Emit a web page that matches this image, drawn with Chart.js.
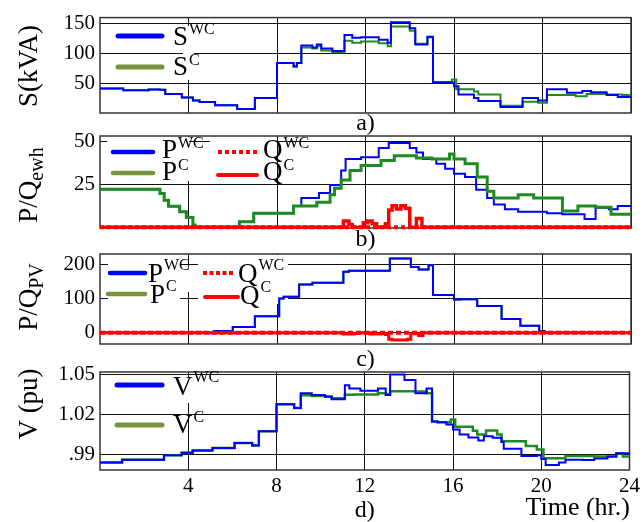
<!DOCTYPE html>
<html>
<head>
<meta charset="utf-8">
<script src="https://cdn.jsdelivr.net/npm/chart.js@4.4.1/dist/chart.umd.min.js"></script>
<style>
  html, body { margin: 0; padding: 0; background: #fff; }
  #fig { position: relative; width: 644px; height: 522px; overflow: hidden; background: #fff; }
  #fig canvas { position: absolute; left: 0; top: 0; }
</style>
</head>
<body>
<div id="fig">
  <canvas id="pa" width="644" height="522"></canvas>
  <canvas id="pb" width="644" height="522"></canvas>
  <canvas id="pc" width="644" height="522"></canvas>
  <canvas id="pd" width="644" height="522"></canvas>
</div>
<script>
// ---- shared time axis (hours) ----
const hourTicks  = [4, 8, 12, 16, 20, 24];
const hourLabels = ['4', '8', '12', '16', '20', '24'];

// ---- a) apparent power S (kVA) ----
const sTicks  = [50, 100, 150];
const sLabels = ['50', '100', '150'];
const sWcT = [0, 1.05, 2.2, 2.7, 2.95, 3.7, 4.2, 4.5, 5.2, 6.2, 7.0, 8.0, 8.75, 8.9, 9.1, 9.6, 9.8, 10.0, 10.5, 11.05, 11.4, 11.8, 12.6, 13.0, 13.15, 14.0, 14.25, 14.8, 15.05, 16.0, 16.2, 16.9, 17.1, 18.1, 19.1, 19.8, 20.2, 21.1, 21.8, 22.2, 22.9, 23.4, 24];
const sWcV = [41, 38, 39.5, 39, 32, 26, 21, 18.5, 13, 6.5, 25, 84, 78, 84, 113, 110, 115, 108, 104, 131, 126, 127, 123, 118, 152, 142, 115, 128, 51, 45, 31, 25, 20, 10, 25, 21, 40, 34, 37, 35, 30, 27, 27];
const sCT  = [0, 1.05, 2.2, 2.7, 2.95, 3.7, 4.2, 4.5, 5.2, 6.2, 7.0, 8.0, 8.75, 8.9, 9.1, 9.6, 9.8, 10.0, 10.5, 11.05, 11.4, 11.8, 12.6, 13.0, 13.15, 14.0, 14.25, 14.8, 15.05, 15.9, 16.1, 16.9, 17.1, 18.1, 19.1, 19.8, 20.2, 21.5, 22.0, 22.9, 23.6, 24];
const sCV  = [41, 38, 39.5, 39, 32, 26, 21, 18.5, 13, 6.5, 25, 84, 78, 84, 110, 108, 112, 105, 102, 121, 118, 120, 117, 112, 145, 138, 116, 127, 52, 56, 40, 36, 31, 12, 19, 17, 30, 28, 32, 31, 30, 30];

// ---- b) water heater P / Q ----
const ewhTicks  = [25, 50];
const ewhLabels = ['25', '50'];
const pEwhWcT = [0, 2.71, 2.9, 3.1, 3.6, 3.9, 4.2, 4.3, 6.3, 6.95, 8.75, 9.1, 9.9, 10.4, 10.9, 11.1, 11.8, 12.6, 13.05, 14.0, 14.3, 14.6, 15.2, 15.6, 16.0, 16.5, 17.0, 17.5, 17.8, 18.3, 18.9, 20.2, 20.9, 21.9, 22.4, 23.0, 23.4, 24];
const pEwhWcV = [22, 19.6, 15.7, 12.2, 8.9, 5.6, 1.2, 0, 3.1, 8.1, 12.3, 17, 19.8, 24.5, 33, 39.6, 40.6, 46, 49, 46, 43.4, 39.6, 36.8, 34, 31, 29.2, 21.7, 17, 13.2, 10.4, 8.9, 8.1, 7.5, 4.7, 11.3, 10.4, 12.3, 12.3];
const pEwhCT  = [0, 2.71, 2.9, 3.1, 3.6, 3.9, 4.2, 4.3, 6.3, 6.95, 8.75, 9.8, 10.4, 10.6, 10.9, 11.3, 11.8, 12.7, 13.3, 14.3, 15.0, 15.8, 16.0, 16.5, 17.05, 17.5, 17.8, 18.9, 19.6, 20.9, 21.6, 22.4, 23.1, 24];
const pEwhCV  = [22, 19.6, 15.7, 12.2, 8.9, 5.6, 1.2, 0, 3.1, 8.1, 12.3, 14.5, 18.9, 22.6, 27.4, 33, 35.8, 38.7, 41.5, 40.2, 39.6, 42.5, 39.6, 36.8, 29.2, 20.8, 17, 18.9, 17, 9.4, 12.3, 11.5, 7.5, 7.5];
const qEwhWcT = [0, 24];
const qEwhWcV = [0, 0];
const qEwhCT  = [0, 11.0, 11.25, 11.4, 11.9, 12.1, 12.3, 12.5, 12.9, 13.05, 13.2, 13.4, 13.6, 13.8, 14.0, 14.3, 14.55, 24];
const qEwhCV  = [0, 3.5, 1.5, 0, 2.5, 3.5, 2, 0, 2, 10, 12.5, 10.5, 12.5, 11, 0, 5, 0, 0];

// ---- c) PV P / Q ----
const pvTicks  = [0, 100, 200];
const pvLabels = ['0', '100', '200'];
const pPvT = [0, 5.15, 6.0, 7.0, 8.1, 8.3, 9.0, 9.6, 11.0, 11.25, 13.1, 14.05, 14.4, 14.85, 15.05, 16.0, 16.3, 17.05, 18.15, 19.0, 19.85, 20.1, 24];
const pPvV = [0, 5, 17, 48, 100, 105, 141, 146, 178, 181, 217, 192, 185, 197, 110, 97, 98, 78, 40, 20, 5, 0, 0];
const qPvWcT = [0, 24];
const qPvWcV = [0, 0];
const qPvCT  = [0, 11.0, 11.5, 11.7, 12.2, 12.7, 12.9, 13.05, 13.2, 13.9, 14.05, 14.4, 14.6, 24];
const qPvCV  = [0, -4, -2, 0, -4, -2, -5, -19, -21, -19, -3, -8, 0, 0];

// ---- d) voltage (pu) ----
const vTicks  = [0.99, 1.02, 1.05];
const vLabels = ['.99', '1.02', '1.05'];
const vWcT = [0, 1.0, 2.9, 3.7, 4.2, 5.1, 6.1, 6.9, 7.2, 8.0, 8.8, 9.1, 9.6, 10.2, 10.5, 11.1, 11.3, 11.8, 12.6, 12.95, 13.15, 13.8, 14.3, 14.8, 15.05, 15.3, 15.7, 16.0, 16.3, 16.7, 17.15, 17.4, 17.8, 18.2, 18.3, 19.1, 19.8, 20.0, 20.2, 20.8, 21.1, 21.9, 22.4, 23.0, 23.4, 24];
const vWcV = [0.9843, 0.9865, 0.9898, 0.9917, 0.9934, 0.9952, 0.9990, 0.997, 1.0077, 1.0278, 1.0249, 1.036, 1.0347, 1.0335, 1.0315, 1.042, 1.0396, 1.0379, 1.0396, 1.0347, 1.05, 1.0458, 1.036, 1.0396, 1.015, 1.0143, 1.0126, 1.0089, 1.0052, 1.003, 1.0008, 1.004, 1.0028, 0.9996, 0.9947, 0.9893, 0.9898, 0.987, 0.9826, 0.9843, 0.9865, 0.9863, 0.9873, 0.9888, 0.9912, 0.9912];
const vCT  = [0, 1.0, 2.9, 3.7, 4.2, 5.1, 6.1, 6.9, 7.2, 8.0, 8.8, 9.1, 9.6, 10.2, 10.5, 11.1, 11.5, 12.6, 12.95, 13.15, 14.3, 14.8, 15.05, 15.3, 15.9, 16.1, 16.9, 17.1, 17.5, 18.0, 18.2, 19.3, 19.8, 20.1, 21.1, 22.4, 23.4, 23.7, 24];
const vCV  = [0.9843, 0.9865, 0.9898, 0.9917, 0.9934, 0.9952, 0.9990, 0.997, 1.0077, 1.0278, 1.0249, 1.0345, 1.034, 1.0333, 1.0322, 1.0348, 1.035, 1.036, 1.0355, 1.0375, 1.0372, 1.036, 1.015, 1.0143, 1.0165, 1.011, 1.008, 1.0052, 1.0082, 1.0052, 1.0003, 0.9966, 0.994, 0.9875, 0.9893, 0.9888, 0.991, 0.9888, 0.9888];

// ---- styling ----
const SERIF = '"Liberation Serif", "Times New Roman", Times, serif';
const BLUE = '#0000ff';
const GREEN = '#1f8a1f';
const OLIVE = '#77933c';
const RED = '#ff0000';
const W = 644, H = 522, RIGHT_PAD = 13, LEFT_AXIS = 100, X_LABEL_BAND = 36;

function series(t, v) { return t.map((x, i) => ({ x: x, y: v[i] })); }

function trace(t, v, color, width, order, extra) {
  return Object.assign({
    data: series(t, v), borderColor: color, borderWidth: width,
    stepped: true, pointRadius: 0, fill: false, order: order, clip: 4
  }, extra || {});
}

function textWithScript(ctx, x, base, main, mainSize, small, smallSize, smallBase) {
  ctx.font = mainSize + 'px ' + SERIF;
  ctx.fillText(main, x, base);
  const w = ctx.measureText(main).width;
  if (small) {
    ctx.font = smallSize + 'px ' + SERIF;
    ctx.fillText(small, x + w + 1, smallBase);
  }
}

function panelPlugin(cfg) {
  return {
    id: 'panelDecor',
    beforeDatasetsDraw(chart) {
      const ctx = chart.ctx, a = chart.chartArea;
      ctx.save();
      ctx.fillStyle = '#fff';
      cfg.boxes.forEach(b => ctx.fillRect(b[0], b[1], b[2] - b[0], b[3] - b[1]));
      ctx.strokeStyle = '#333';
      ctx.lineWidth = 1.5;
      ctx.strokeRect(a.left, a.top, a.right - a.left, a.bottom - a.top);
      ctx.restore();
    },
    afterDatasetsDraw(chart) {
      const ctx = chart.ctx, a = chart.chartArea;
      ctx.save();
      // legend entries
      cfg.legend.forEach(it => {
        ctx.beginPath();
        ctx.strokeStyle = it.color;
        ctx.lineWidth = it.width;
        ctx.lineCap = it.dash ? 'butt' : 'round';
        ctx.setLineDash(it.dash || []);
        ctx.moveTo(it.x0, it.y);
        ctx.lineTo(it.x1, it.y);
        ctx.stroke();
        ctx.setLineDash([]);
        ctx.fillStyle = '#000';
        ctx.textBaseline = 'alphabetic';
        ctx.textAlign = 'left';
        textWithScript(ctx, it.tx, it.base, it.main, 27, it.sup, 16, it.supBase);
      });
      // rotated axis title, optional subscript
      ctx.save();
      ctx.translate(cfg.titleX, cfg.titleY);
      ctx.rotate(-Math.PI / 2);
      ctx.fillStyle = '#000';
      ctx.textBaseline = 'middle';
      ctx.textAlign = 'left';
      ctx.font = '27px ' + SERIF;
      const wm = ctx.measureText(cfg.title).width;
      let ws = 0;
      if (cfg.sub) { ctx.font = '20px ' + SERIF; ws = ctx.measureText(cfg.sub).width; }
      const x0 = -(wm + ws) / 2;
      ctx.font = '27px ' + SERIF;
      ctx.fillText(cfg.title, x0, 0);
      if (cfg.sub) { ctx.font = '20px ' + SERIF; ctx.fillText(cfg.sub, x0 + wm, 8); }
      ctx.restore();
      // panel caption
      ctx.fillStyle = '#000';
      ctx.font = '24px ' + SERIF;
      ctx.textAlign = 'center';
      ctx.textBaseline = 'middle';
      ctx.fillText(cfg.caption, (a.left + a.right) / 2, cfg.captionY);
      if (cfg.xTitle) {
        ctx.font = '26px ' + SERIF;
        ctx.textAlign = 'right';
        ctx.textBaseline = 'alphabetic';
        ctx.fillText(cfg.xTitle, 630, 515);
      }
      ctx.restore();
    }
  };
}

function makePanel(id, cfg) {
  const tickFont = { family: SERIF, size: 21 };
  const band = cfg.showX ? X_LABEL_BAND : 0;
  return new Chart(document.getElementById(id), {
    type: 'line',
    data: { datasets: cfg.datasets },
    options: {
      responsive: false,
      animation: false,
      devicePixelRatio: 1,
      events: [],
      layout: { padding: { left: 0, right: RIGHT_PAD, top: cfg.top, bottom: H - cfg.bottom - band } },
      plugins: { legend: { display: false }, tooltip: { enabled: false } },
      elements: { line: { tension: 0 } },
      scales: {
        x: {
          type: 'linear', min: 0, max: 24,
          afterBuildTicks: s => { s.ticks = hourTicks.map(v => ({ value: v })); },
          afterFit: s => { s.height = band; },
          grid: { color: '#111', lineWidth: 1, drawTicks: false },
          border: { display: false },
          ticks: {
            display: !!cfg.showX, padding: 4, color: '#000', font: tickFont,
            maxRotation: 0, autoSkip: false,
            callback: (v, i) => hourLabels[i]
          }
        },
        y: {
          type: 'linear', min: cfg.yMin, max: cfg.yMax,
          afterBuildTicks: s => { s.ticks = cfg.yTicks.map(v => ({ value: v })); },
          afterFit: s => { s.width = LEFT_AXIS; },
          grid: { color: '#111', lineWidth: 1, drawTicks: false },
          border: { display: false },
          ticks: {
            padding: 5, color: '#000', font: tickFont,
            callback: (v, i) => cfg.yLabels[i]
          }
        }
      }
    },
    plugins: [panelPlugin(cfg)]
  });
}

// a) S
makePanel('pa', {
  top: 15, bottom: 113, yMin: 0, yMax: 160, yTicks: sTicks, yLabels: sLabels,
  datasets: [
    trace(sWcT, sWcV, BLUE, 2, 0),
    trace(sCT, sCV, GREEN, 2, 1)
  ],
  boxes: [[183, 26, 194, 80]],
  legend: [
    { x0: 118, x1: 162, y: 36, color: BLUE, width: 5, main: 'S', sup: 'WC', tx: 173, base: 45, supBase: 34 },
    { x0: 118, x1: 162, y: 67, color: OLIVE, width: 5, main: 'S', sup: 'C', tx: 173, base: 75, supBase: 65 }
  ],
  title: 'S(kVA)', sub: '', titleX: 30, titleY: 66,
  caption: 'a)', captionY: 124
});

// b) water heater
makePanel('pb', {
  top: 136, bottom: 228, yMin: -0.5, yMax: 53, yTicks: ewhTicks, yLabels: ewhLabels,
  datasets: [
    trace(qEwhCT, qEwhCV, RED, 3.5, 0),
    trace(qEwhWcT, qEwhWcV, RED, 4, 1, { borderDash: [4, 3] }),
    trace(pEwhCT, pEwhCV, GREEN, 3, 2),
    trace(pEwhWcT, pEwhWcV, BLUE, 2, 3)
  ],
  boxes: [[107, 137, 189, 181], [210, 137, 276, 181]],
  legend: [
    { x0: 113, x1: 153, y: 152, color: BLUE, width: 4.5, main: 'P', sup: 'WC', tx: 162, base: 158, supBase: 148 },
    { x0: 113, x1: 153, y: 173, color: OLIVE, width: 4.5, main: 'P', sup: 'C', tx: 162, base: 180, supBase: 170 },
    { x0: 218, x1: 257, y: 152, color: RED, width: 4, dash: [4, 3], main: 'Q', sup: 'WC', tx: 263, base: 158, supBase: 148 },
    { x0: 218, x1: 257, y: 175, color: RED, width: 4, main: 'Q', sup: 'C', tx: 263, base: 180, supBase: 170 }
  ],
  title: 'P/Q', sub: 'ewh', titleX: 30, titleY: 185,
  caption: 'b)', captionY: 240
});

// c) PV
makePanel('pc', {
  top: 254, bottom: 344, yMin: -33, yMax: 230, yTicks: pvTicks, yLabels: pvLabels,
  datasets: [
    trace(qPvWcT, qPvWcV, RED, 4, 0, { borderDash: [5, 3] }),
    trace(qPvCT, qPvCV, RED, 3, 1),
    trace(pPvT, pPvV, BLUE, 2, 2),
    trace(pPvT, pPvV, GREEN, 2, 3)
  ],
  boxes: [[108, 255, 180, 304], [198, 255, 288, 304], [182, 267, 194, 292]],
  legend: [
    { x0: 110, x1: 145, y: 273, color: BLUE, width: 4.5, main: 'P', sup: 'WC', tx: 148, base: 282, supBase: 270 },
    { x0: 108, x1: 145, y: 294, color: OLIVE, width: 4.5, main: 'P', sup: 'C', tx: 150, base: 303, supBase: 291 },
    { x0: 203, x1: 235, y: 273, color: RED, width: 4, dash: [4, 2.5], main: 'Q', sup: 'WC', tx: 238, base: 282, supBase: 270 },
    { x0: 205, x1: 238, y: 297, color: RED, width: 4, main: 'Q', sup: 'C', tx: 240, base: 304, supBase: 292 }
  ],
  title: 'P/Q', sub: 'PV', titleX: 30, titleY: 297,
  caption: 'c)', captionY: 360
});

// d) voltage
makePanel('pd', {
  top: 372, bottom: 470, yMin: 0.9788, yMax: 1.0518, yTicks: vTicks, yLabels: vLabels,
  showX: true,
  datasets: [
    trace(vWcT, vWcV, BLUE, 2, 0),
    trace(vCT, vCV, GREEN, 2.5, 1)
  ],
  boxes: [[183, 378, 194, 403]],
  legend: [
    { x0: 117, x1: 162, y: 385, color: BLUE, width: 5, main: 'V', sup: 'WC', tx: 173, base: 395, supBase: 382 },
    { x0: 117, x1: 162, y: 425, color: OLIVE, width: 5, main: 'V', sup: 'C', tx: 173, base: 433, supBase: 422 }
  ],
  title: 'V (pu)', sub: '', titleX: 30, titleY: 404,
  caption: 'd)', captionY: 511, xTitle: 'Time (hr.)'
});
</script>
</body>
</html>
